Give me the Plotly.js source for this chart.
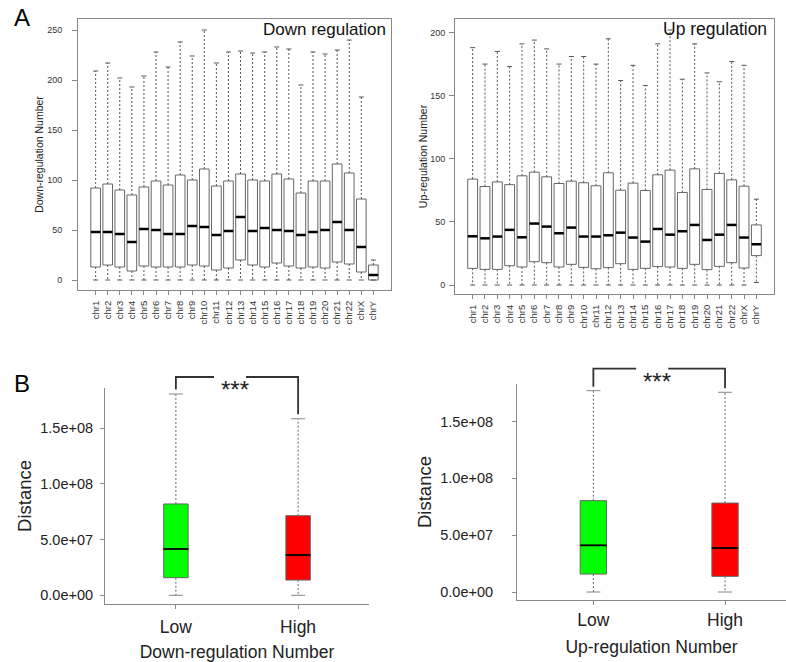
<!DOCTYPE html>
<html><head><meta charset="utf-8">
<script src="https://cdn.plot.ly/plotly-3.0.1.min.js"></script>
<style>html,body{margin:0;padding:0;background:#fff}#chart{width:786px;height:662px}</style>
</head><body><div id="chart"></div>
<script>
// ---------------- DATA ----------------
const chromosomes = ['chr1','chr2','chr3','chr4','chr5','chr6','chr7','chr8','chr9','chr10','chr11','chr12',
  'chr13','chr14','chr15','chr16','chr17','chr18','chr19','chr20','chr21','chr22','chrX','chrY'];

// Panel A, Down regulation (per chromosome)
const downQ1     = [13,15,13,9,14,13,13,13,15,14,10,12,20,15,13,17,14,12,13,12,18,16,8,0];
const downMedian = [48,48,46,38,51,50,46,46,54,53,45,49,63,49,52,50,49,45,48,50,58,50,33,5];
const downQ3     = [92,96,90,85,93,99,95,105,100,111,94,99,106,100,99,106,101,87,99,99,116,107,81,15];
const downLower  = [0,0,0,0,0,0,0,0,0,0,0,0,0,0,0,0,0,0,0,0,0,0,0,0];
const downUpper  = [209,217,202,193,204,228,213,238,224,250,217,228,229,227,228,233,231,195,228,226,230,240,183,20];

// Panel A, Up regulation (per chromosome)
const upQ1     = [13.2,12.4,12.4,15.3,14.3,18.5,17.7,14.3,16.4,14,12.9,13.8,16.9,12.4,13.2,14.6,14.3,13.2,16.4,12.2,14.8,17.7,13.5,23.3];
const upMedian = [38.6,37,38.4,43.7,37.8,48.7,46.3,41,45.5,38.4,38.4,39.4,41.5,37.6,34.4,44.4,39.9,42.6,47.6,35.7,39.9,47.6,37.6,32.3];
const upQ3     = [83.9,78,81.7,79.5,86.5,89.4,85.7,80.4,82.3,81,78.6,88.9,75.1,80.7,74.9,87.3,91,73.3,92,75.7,88.4,83.3,78.3,47.6];
const upLower  = [0,0,0,0,0,0,0,0,0,0,0,0,0,0,0,0,0,0,0,0,0,0,0,2];
const upUpper  = [188,175,185,173,191,194,187,175,181,181,175,195,162,174,158,191,202,163,191,168,161,177,174,68];

// Panel B, distance by Low / High groups
const groups = ['Low','High'];
const groupColors = ['#00ff00','#ff0000'];
const distDownQ1     = [1.58e7, 1.37e7];
const distDownMedian = [4.16e7, 3.62e7];
const distDownQ3     = [8.20e7, 7.15e7];
const distDownLower  = [0, 0];
const distDownUpper  = [1.807e8, 1.585e8];

const distUpQ1     = [1.58e7, 1.38e7];
const distUpMedian = [4.11e7, 3.87e7];
const distUpQ3     = [8.04e7, 7.83e7];
const distUpLower  = [0, 0];
const distUpUpper  = [1.772e8, 1.758e8];

const distTickVals = [0, 5e7, 1e8, 1.5e8];
const distTickText = ['0.0e+00','5.0e+07','1.0e+08','1.5e+08'];
const sigLabel = '***';

// ---------------- LAYOUT HELPERS ----------------
const W = 786, H = 662;
const FONT = 'Liberation Sans, Arial, Helvetica, sans-serif';
const px2x = p => p / W;
const px2y = p => 1 - p / H;
const LINE_EW = 1.4; // plotly 'line-ew' symbol length = 1.4 * size

const G = {
  a1: {l: 78,  r: 391, t: 19,  b: 290, xr: [-1.46, 24.46], yr: [-10, 261]},
  a2: {l: 455, r: 774, t: 19,  b: 294, xr: [-1.43, 24.43], yr: [-7.1, 210.7]},
  b1: {l: 105, r: 369, t: 388, b: 604, xr: [-0.58, 1.58],  yr: [-7.8e6, 1.861e8]},
  b2: {l: 517, r: 786, t: 384, b: 600, xr: [-0.58, 1.463], yr: [-7.04e6, 1.831e8]}
};

function boxTraces(xa, ya, cats, q1, med, q3, lo, hi, o) {
  const t = [];
  const wx = [], wy = [];
  cats.forEach((c, i) => {
    wx.push(c, c, null, c, c, null);
    wy.push(q3[i], hi[i], null, q1[i], lo[i], null);
  });
  t.push({type: 'scatter', mode: 'lines', x: wx, y: wy, xaxis: xa, yaxis: ya,
    line: {color: o.whiskerColor, width: 1, dash: o.dash}, connectgaps: false,
    hoverinfo: 'skip', showlegend: false});
  t.push({type: 'scatter', mode: 'markers', x: cats.concat(cats), y: hi.concat(lo), xaxis: xa, yaxis: ya,
    marker: {symbol: 'line-ew', size: o.capLen / LINE_EW, line: {color: o.capColor, width: 1}},
    hoverinfo: 'skip', showlegend: false});
  cats.forEach((c, i) => {
    t.push({type: 'box', x: [c], q1: [q1[i]], median: [med[i]], q3: [q3[i]],
      lowerfence: [q1[i]], upperfence: [q3[i]], xaxis: xa, yaxis: ya,
      fillcolor: o.fills[i % o.fills.length], line: {color: o.boxLine, width: 1},
      width: o.boxWidth, whiskerwidth: 0, boxpoints: false, hoverinfo: 'skip', showlegend: false});
  });
  t.push({type: 'scatter', mode: 'markers', x: cats, y: med, xaxis: xa, yaxis: ya,
    marker: {symbol: 'line-ew', size: o.medLen / LINE_EW, line: {color: '#000', width: o.medWidth}},
    hoverinfo: 'skip', showlegend: false});
  return t;
}

const optsA = {whiskerColor: '#555', dash: '2px,2px', capLen: 5, capColor: '#555',
  fills: ['#ffffff'], boxLine: '#666', boxWidth: 0.8, medLen: 9.5, medWidth: 2.5};
const optsB = {whiskerColor: '#666', dash: '2px,2px', capLen: 14, capColor: '#888',
  fills: groupColors, boxLine: '#666', boxWidth: 0.2, medLen: 25, medWidth: 1.8};

const data = [].concat(
  boxTraces('x', 'y', chromosomes, downQ1, downMedian, downQ3, downLower, downUpper, optsA),
  boxTraces('x2', 'y2', chromosomes, upQ1, upMedian, upQ3, upLower, upUpper, optsA),
  boxTraces('x3', 'y3', groups, distDownQ1, distDownMedian, distDownQ3, distDownLower, distDownUpper, optsB),
  boxTraces('x4', 'y4', groups, distUpQ1, distUpMedian, distUpQ3, distUpLower, distUpUpper, Object.assign({}, optsB, {medLen: 26.5}))
);

function xAxisA(g, anchor) {
  return {domain: [px2x(g.l), px2x(g.r)], anchor: anchor, type: 'category',
    categoryorder: 'array', categoryarray: chromosomes, range: g.xr,
    showline: true, mirror: true, linecolor: '#888', linewidth: 1,
    ticks: 'outside', ticklen: 4, tickcolor: '#888', tickangle: -90,
    tickfont: {family: FONT, size: 9.5, color: '#333'}, ticklabelstandoff: 2,
    showgrid: false, zeroline: false, fixedrange: true};
}
function yAxisA(g, anchor, title, standoffLabels, titleStandoff) {
  return {domain: [px2y(g.b), px2y(g.t)], anchor: anchor, range: g.yr,
    tick0: 0, dtick: 50, showline: true, mirror: true, linecolor: '#888', linewidth: 1,
    ticks: 'outside', ticklen: 5, tickcolor: '#888',
    tickfont: {family: FONT, size: 9, color: '#333'}, ticklabelstandoff: standoffLabels,
    title: {text: title, font: {family: FONT, size: 10.5, color: '#222'}, standoff: titleStandoff},
    showgrid: false, zeroline: false, fixedrange: true};
}
function xAxisB(g, anchor, title, labelStandoff, titleStandoff) {
  return {domain: [px2x(g.l), px2x(g.r)], anchor: anchor, type: 'category',
    categoryorder: 'array', categoryarray: groups, range: g.xr,
    showline: true, linecolor: '#888', linewidth: 1,
    ticks: 'outside', ticklen: 4, tickcolor: '#888',
    tickfont: {family: FONT, size: 17.5, color: '#222'}, ticklabelstandoff: labelStandoff,
    title: {text: title, font: {family: FONT, size: 17.5, color: '#222'}, standoff: titleStandoff},
    showgrid: false, zeroline: false, fixedrange: true};
}
function yAxisB(g, anchor, labelStandoff) {
  return {domain: [px2y(g.b), px2y(g.t)], anchor: anchor, range: g.yr,
    tickmode: 'array', tickvals: distTickVals, ticktext: distTickText,
    showline: true, linecolor: '#888', linewidth: 1,
    ticks: 'outside', ticklen: 4, tickcolor: '#888',
    tickfont: {family: FONT, size: 14.5, color: '#222'}, ticklabelstandoff: labelStandoff,
    title: {text: 'Distance', font: {family: FONT, size: 18.5, color: '#222'}, standoff: 3},
    showgrid: false, zeroline: false, fixedrange: true};
}

// significance bracket from the whisker tops
function bracket(g, hi, topOffset, legGap) {
  const xpx = i => g.l + (i - g.xr[0]) / (g.xr[1] - g.xr[0]) * (g.r - g.l);
  const ypx = v => g.b - (v - g.yr[0]) / (g.yr[1] - g.yr[0]) * (g.b - g.t);
  const x0 = xpx(0), x1 = xpx(1);
  const y0 = ypx(hi[0]) - legGap, y1 = ypx(hi[1]) - legGap;
  const top = Math.min(ypx(hi[0]), ypx(hi[1])) - topOffset;
  const mid = (x0 + x1) / 2;
  const g0 = mid - 23, g1 = mid + 9;
  const P = (x, y) => px2x(x) + ',' + px2y(y);
  return {
    shapes: [
      {type: 'path', xref: 'paper', yref: 'paper', path: 'M' + P(x0, y0) + ' L' + P(x0, top) + ' L' + P(g0, top),
        line: {color: '#333', width: 1.8}},
      {type: 'path', xref: 'paper', yref: 'paper', path: 'M' + P(g1, top) + ' L' + P(x1, top) + ' L' + P(x1, y1),
        line: {color: '#333', width: 1.8}}
    ],
    ann: {xref: 'paper', yref: 'paper', x: px2x(mid - 2), y: px2y(top - 3), xanchor: 'center', yanchor: 'top',
      text: sigLabel, showarrow: false, font: {family: FONT, size: 24, color: '#222'}}
  };
}
const br1 = bracket(G.b1, distDownUpper, 17, 4.5);
const br2 = bracket(G.b2, distUpUpper, 22, 4);

const layout = {
  width: W, height: H, margin: {l: 0, r: 0, t: 0, b: 0},
  paper_bgcolor: '#fff', plot_bgcolor: 'rgba(0,0,0,0)', showlegend: false,
  font: {family: FONT, color: '#222'},
  xaxis: xAxisA(G.a1, 'y'),
  yaxis: yAxisA(G.a1, 'x', 'Down-regulation Number', 8, 1),
  xaxis2: xAxisA(G.a2, 'y2'),
  yaxis2: yAxisA(G.a2, 'x2', 'Up-regulation Number', 2, 0),
  xaxis3: xAxisB(G.b1, 'y3', 'Down-regulation Number', 3, 14),
  yaxis3: yAxisB(G.b1, 'x3', 4),
  xaxis4: xAxisB(G.b2, 'y4', 'Up-regulation Number', 0, 11),
  yaxis4: yAxisB(G.b2, 'x4', 16),
  shapes: br1.shapes.concat(br2.shapes),
  annotations: [
    {xref: 'paper', yref: 'paper', x: px2x(22), y: px2y(18), xanchor: 'center', yanchor: 'middle',
      text: 'A', showarrow: false, font: {family: FONT, size: 24, color: '#000'}},
    {xref: 'paper', yref: 'paper', x: px2x(22), y: px2y(383), xanchor: 'center', yanchor: 'middle',
      text: 'B', showarrow: false, font: {family: FONT, size: 24, color: '#000'}},
    {xref: 'paper', yref: 'paper', x: px2x(388), y: px2y(30), xanchor: 'right', yanchor: 'middle',
      text: 'Down regulation', showarrow: false, font: {family: FONT, size: 17, color: '#111'}},
    {xref: 'paper', yref: 'paper', x: px2x(769), y: px2y(29), xanchor: 'right', yanchor: 'middle',
      text: 'Up regulation', showarrow: false, font: {family: FONT, size: 17.5, color: '#111'}},
    br1.ann, br2.ann
  ]
};

Plotly.newPlot('chart', data, layout, {staticPlot: true, displayModeBar: false});
</script>
</body></html>
